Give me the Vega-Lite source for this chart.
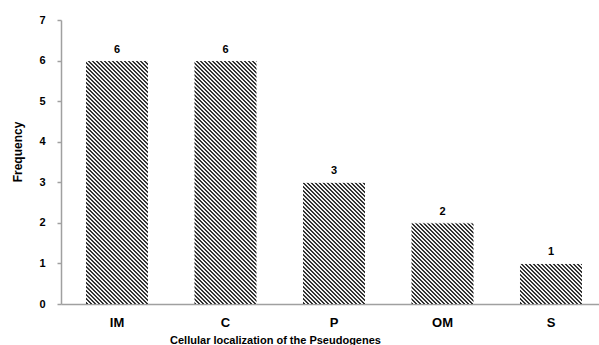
{
"$schema":"https://vega.github.io/schema/vega-lite/v6.json",
"autosize":{"type":"none"},
"padding":{"left":61,"top":20,"right":0,"bottom":41},
"width":538,
"height":284,
"background":"white",
"config":{"view":{"stroke":null},"font":"Liberation Sans"},
"data":{"values":[
{"Location":"IM","Frequency":6},
{"Location":"C","Frequency":6},
{"Location":"P","Frequency":3},
{"Location":"OM","Frequency":2},
{"Location":"S","Frequency":1}
]},
"encoding":{
"x":{"field":"Location","type":"nominal","sort":null,
"scale":{"paddingInner":0.4286,"paddingOuter":0.1935,"align":0.595},
"axis":{"title":"Cellular localization of the Pseudogenes","labelAngle":0,"ticks":false,"tickSize":0,"labelPadding":22,"labelBaseline":"alphabetic","labelFontSize":13,"labelFontWeight":"bold","labelColor":"#000","domainColor":"#a0a0a0","domainWidth":1.5,"titleFontSize":11,"titleFontWeight":"bold","titleColor":"#000","titleX":214,"titleY":39,"titleBaseline":"alphabetic","titleAlign":"center"}}
},
"layer":[
{"mark":{"type":"bar","stroke":null,"fill":{"gradient":"linear","x1":0.004032,"y1":1,"x2":0.297522,"y2":-0.34438,"stops":[
{"offset":0,"color":"#333"},{"offset":0.005,"color":"#333"},{"offset":0.005,"color":"#f2f2f2"},{"offset":0.01,"color":"#f2f2f2"},
{"offset":0.01,"color":"#333"},{"offset":0.015,"color":"#333"},{"offset":0.015,"color":"#f2f2f2"},{"offset":0.02,"color":"#f2f2f2"},
{"offset":0.02,"color":"#333"},{"offset":0.025,"color":"#333"},{"offset":0.025,"color":"#f2f2f2"},{"offset":0.03,"color":"#f2f2f2"},
{"offset":0.03,"color":"#333"},{"offset":0.035,"color":"#333"},{"offset":0.035,"color":"#f2f2f2"},{"offset":0.04,"color":"#f2f2f2"},
{"offset":0.04,"color":"#333"},{"offset":0.045,"color":"#333"},{"offset":0.045,"color":"#f2f2f2"},{"offset":0.05,"color":"#f2f2f2"},
{"offset":0.05,"color":"#333"},{"offset":0.055,"color":"#333"},{"offset":0.055,"color":"#f2f2f2"},{"offset":0.06,"color":"#f2f2f2"},
{"offset":0.06,"color":"#333"},{"offset":0.065,"color":"#333"},{"offset":0.065,"color":"#f2f2f2"},{"offset":0.07,"color":"#f2f2f2"},
{"offset":0.07,"color":"#333"},{"offset":0.075,"color":"#333"},{"offset":0.075,"color":"#f2f2f2"},{"offset":0.08,"color":"#f2f2f2"},
{"offset":0.08,"color":"#333"},{"offset":0.085,"color":"#333"},{"offset":0.085,"color":"#f2f2f2"},{"offset":0.09,"color":"#f2f2f2"},
{"offset":0.09,"color":"#333"},{"offset":0.095,"color":"#333"},{"offset":0.095,"color":"#f2f2f2"},{"offset":0.1,"color":"#f2f2f2"},
{"offset":0.1,"color":"#333"},{"offset":0.105,"color":"#333"},{"offset":0.105,"color":"#f2f2f2"},{"offset":0.11,"color":"#f2f2f2"},
{"offset":0.11,"color":"#333"},{"offset":0.115,"color":"#333"},{"offset":0.115,"color":"#f2f2f2"},{"offset":0.12,"color":"#f2f2f2"},
{"offset":0.12,"color":"#333"},{"offset":0.125,"color":"#333"},{"offset":0.125,"color":"#f2f2f2"},{"offset":0.13,"color":"#f2f2f2"},
{"offset":0.13,"color":"#333"},{"offset":0.135,"color":"#333"},{"offset":0.135,"color":"#f2f2f2"},{"offset":0.14,"color":"#f2f2f2"},
{"offset":0.14,"color":"#333"},{"offset":0.145,"color":"#333"},{"offset":0.145,"color":"#f2f2f2"},{"offset":0.15,"color":"#f2f2f2"},
{"offset":0.15,"color":"#333"},{"offset":0.155,"color":"#333"},{"offset":0.155,"color":"#f2f2f2"},{"offset":0.16,"color":"#f2f2f2"},
{"offset":0.16,"color":"#333"},{"offset":0.165,"color":"#333"},{"offset":0.165,"color":"#f2f2f2"},{"offset":0.17,"color":"#f2f2f2"},
{"offset":0.17,"color":"#333"},{"offset":0.175,"color":"#333"},{"offset":0.175,"color":"#f2f2f2"},{"offset":0.18,"color":"#f2f2f2"},
{"offset":0.18,"color":"#333"},{"offset":0.185,"color":"#333"},{"offset":0.185,"color":"#f2f2f2"},{"offset":0.19,"color":"#f2f2f2"},
{"offset":0.19,"color":"#333"},{"offset":0.195,"color":"#333"},{"offset":0.195,"color":"#f2f2f2"},{"offset":0.2,"color":"#f2f2f2"},
{"offset":0.2,"color":"#333"},{"offset":0.205,"color":"#333"},{"offset":0.205,"color":"#f2f2f2"},{"offset":0.21,"color":"#f2f2f2"},
{"offset":0.21,"color":"#333"},{"offset":0.215,"color":"#333"},{"offset":0.215,"color":"#f2f2f2"},{"offset":0.22,"color":"#f2f2f2"},
{"offset":0.22,"color":"#333"},{"offset":0.225,"color":"#333"},{"offset":0.225,"color":"#f2f2f2"},{"offset":0.23,"color":"#f2f2f2"},
{"offset":0.23,"color":"#333"},{"offset":0.235,"color":"#333"},{"offset":0.235,"color":"#f2f2f2"},{"offset":0.24,"color":"#f2f2f2"},
{"offset":0.24,"color":"#333"},{"offset":0.245,"color":"#333"},{"offset":0.245,"color":"#f2f2f2"},{"offset":0.25,"color":"#f2f2f2"},
{"offset":0.25,"color":"#333"},{"offset":0.255,"color":"#333"},{"offset":0.255,"color":"#f2f2f2"},{"offset":0.26,"color":"#f2f2f2"},
{"offset":0.26,"color":"#333"},{"offset":0.265,"color":"#333"},{"offset":0.265,"color":"#f2f2f2"},{"offset":0.27,"color":"#f2f2f2"},
{"offset":0.27,"color":"#333"},{"offset":0.275,"color":"#333"},{"offset":0.275,"color":"#f2f2f2"},{"offset":0.28,"color":"#f2f2f2"},
{"offset":0.28,"color":"#333"},{"offset":0.285,"color":"#333"},{"offset":0.285,"color":"#f2f2f2"},{"offset":0.29,"color":"#f2f2f2"},
{"offset":0.29,"color":"#333"},{"offset":0.295,"color":"#333"},{"offset":0.295,"color":"#f2f2f2"},{"offset":0.3,"color":"#f2f2f2"},
{"offset":0.3,"color":"#333"},{"offset":0.305,"color":"#333"},{"offset":0.305,"color":"#f2f2f2"},{"offset":0.31,"color":"#f2f2f2"},
{"offset":0.31,"color":"#333"},{"offset":0.315,"color":"#333"},{"offset":0.315,"color":"#f2f2f2"},{"offset":0.32,"color":"#f2f2f2"},
{"offset":0.32,"color":"#333"},{"offset":0.325,"color":"#333"},{"offset":0.325,"color":"#f2f2f2"},{"offset":0.33,"color":"#f2f2f2"},
{"offset":0.33,"color":"#333"},{"offset":0.335,"color":"#333"},{"offset":0.335,"color":"#f2f2f2"},{"offset":0.34,"color":"#f2f2f2"},
{"offset":0.34,"color":"#333"},{"offset":0.345,"color":"#333"},{"offset":0.345,"color":"#f2f2f2"},{"offset":0.35,"color":"#f2f2f2"},
{"offset":0.35,"color":"#333"},{"offset":0.355,"color":"#333"},{"offset":0.355,"color":"#f2f2f2"},{"offset":0.36,"color":"#f2f2f2"},
{"offset":0.36,"color":"#333"},{"offset":0.365,"color":"#333"},{"offset":0.365,"color":"#f2f2f2"},{"offset":0.37,"color":"#f2f2f2"},
{"offset":0.37,"color":"#333"},{"offset":0.375,"color":"#333"},{"offset":0.375,"color":"#f2f2f2"},{"offset":0.38,"color":"#f2f2f2"},
{"offset":0.38,"color":"#333"},{"offset":0.385,"color":"#333"},{"offset":0.385,"color":"#f2f2f2"},{"offset":0.39,"color":"#f2f2f2"},
{"offset":0.39,"color":"#333"},{"offset":0.395,"color":"#333"},{"offset":0.395,"color":"#f2f2f2"},{"offset":0.4,"color":"#f2f2f2"},
{"offset":0.4,"color":"#333"},{"offset":0.405,"color":"#333"},{"offset":0.405,"color":"#f2f2f2"},{"offset":0.41,"color":"#f2f2f2"},
{"offset":0.41,"color":"#333"},{"offset":0.415,"color":"#333"},{"offset":0.415,"color":"#f2f2f2"},{"offset":0.42,"color":"#f2f2f2"},
{"offset":0.42,"color":"#333"},{"offset":0.425,"color":"#333"},{"offset":0.425,"color":"#f2f2f2"},{"offset":0.43,"color":"#f2f2f2"},
{"offset":0.43,"color":"#333"},{"offset":0.435,"color":"#333"},{"offset":0.435,"color":"#f2f2f2"},{"offset":0.44,"color":"#f2f2f2"},
{"offset":0.44,"color":"#333"},{"offset":0.445,"color":"#333"},{"offset":0.445,"color":"#f2f2f2"},{"offset":0.45,"color":"#f2f2f2"},
{"offset":0.45,"color":"#333"},{"offset":0.455,"color":"#333"},{"offset":0.455,"color":"#f2f2f2"},{"offset":0.46,"color":"#f2f2f2"},
{"offset":0.46,"color":"#333"},{"offset":0.465,"color":"#333"},{"offset":0.465,"color":"#f2f2f2"},{"offset":0.47,"color":"#f2f2f2"},
{"offset":0.47,"color":"#333"},{"offset":0.475,"color":"#333"},{"offset":0.475,"color":"#f2f2f2"},{"offset":0.48,"color":"#f2f2f2"},
{"offset":0.48,"color":"#333"},{"offset":0.485,"color":"#333"},{"offset":0.485,"color":"#f2f2f2"},{"offset":0.49,"color":"#f2f2f2"},
{"offset":0.49,"color":"#333"},{"offset":0.495,"color":"#333"},{"offset":0.495,"color":"#f2f2f2"},{"offset":0.5,"color":"#f2f2f2"},
{"offset":0.5,"color":"#333"},{"offset":0.505,"color":"#333"},{"offset":0.505,"color":"#f2f2f2"},{"offset":0.51,"color":"#f2f2f2"},
{"offset":0.51,"color":"#333"},{"offset":0.515,"color":"#333"},{"offset":0.515,"color":"#f2f2f2"},{"offset":0.52,"color":"#f2f2f2"},
{"offset":0.52,"color":"#333"},{"offset":0.525,"color":"#333"},{"offset":0.525,"color":"#f2f2f2"},{"offset":0.53,"color":"#f2f2f2"},
{"offset":0.53,"color":"#333"},{"offset":0.535,"color":"#333"},{"offset":0.535,"color":"#f2f2f2"},{"offset":0.54,"color":"#f2f2f2"},
{"offset":0.54,"color":"#333"},{"offset":0.545,"color":"#333"},{"offset":0.545,"color":"#f2f2f2"},{"offset":0.55,"color":"#f2f2f2"},
{"offset":0.55,"color":"#333"},{"offset":0.555,"color":"#333"},{"offset":0.555,"color":"#f2f2f2"},{"offset":0.56,"color":"#f2f2f2"},
{"offset":0.56,"color":"#333"},{"offset":0.565,"color":"#333"},{"offset":0.565,"color":"#f2f2f2"},{"offset":0.57,"color":"#f2f2f2"},
{"offset":0.57,"color":"#333"},{"offset":0.575,"color":"#333"},{"offset":0.575,"color":"#f2f2f2"},{"offset":0.58,"color":"#f2f2f2"},
{"offset":0.58,"color":"#333"},{"offset":0.585,"color":"#333"},{"offset":0.585,"color":"#f2f2f2"},{"offset":0.59,"color":"#f2f2f2"},
{"offset":0.59,"color":"#333"},{"offset":0.595,"color":"#333"},{"offset":0.595,"color":"#f2f2f2"},{"offset":0.6,"color":"#f2f2f2"},
{"offset":0.6,"color":"#333"},{"offset":0.605,"color":"#333"},{"offset":0.605,"color":"#f2f2f2"},{"offset":0.61,"color":"#f2f2f2"},
{"offset":0.61,"color":"#333"},{"offset":0.615,"color":"#333"},{"offset":0.615,"color":"#f2f2f2"},{"offset":0.62,"color":"#f2f2f2"},
{"offset":0.62,"color":"#333"},{"offset":0.625,"color":"#333"},{"offset":0.625,"color":"#f2f2f2"},{"offset":0.63,"color":"#f2f2f2"},
{"offset":0.63,"color":"#333"},{"offset":0.635,"color":"#333"},{"offset":0.635,"color":"#f2f2f2"},{"offset":0.64,"color":"#f2f2f2"},
{"offset":0.64,"color":"#333"},{"offset":0.645,"color":"#333"},{"offset":0.645,"color":"#f2f2f2"},{"offset":0.65,"color":"#f2f2f2"},
{"offset":0.65,"color":"#333"},{"offset":0.655,"color":"#333"},{"offset":0.655,"color":"#f2f2f2"},{"offset":0.66,"color":"#f2f2f2"},
{"offset":0.66,"color":"#333"},{"offset":0.665,"color":"#333"},{"offset":0.665,"color":"#f2f2f2"},{"offset":0.67,"color":"#f2f2f2"},
{"offset":0.67,"color":"#333"},{"offset":0.675,"color":"#333"},{"offset":0.675,"color":"#f2f2f2"},{"offset":0.68,"color":"#f2f2f2"},
{"offset":0.68,"color":"#333"},{"offset":0.685,"color":"#333"},{"offset":0.685,"color":"#f2f2f2"},{"offset":0.69,"color":"#f2f2f2"},
{"offset":0.69,"color":"#333"},{"offset":0.695,"color":"#333"},{"offset":0.695,"color":"#f2f2f2"},{"offset":0.7,"color":"#f2f2f2"},
{"offset":0.7,"color":"#333"},{"offset":0.705,"color":"#333"},{"offset":0.705,"color":"#f2f2f2"},{"offset":0.71,"color":"#f2f2f2"},
{"offset":0.71,"color":"#333"},{"offset":0.715,"color":"#333"},{"offset":0.715,"color":"#f2f2f2"},{"offset":0.72,"color":"#f2f2f2"},
{"offset":0.72,"color":"#333"},{"offset":0.725,"color":"#333"},{"offset":0.725,"color":"#f2f2f2"},{"offset":0.73,"color":"#f2f2f2"},
{"offset":0.73,"color":"#333"},{"offset":0.735,"color":"#333"},{"offset":0.735,"color":"#f2f2f2"},{"offset":0.74,"color":"#f2f2f2"},
{"offset":0.74,"color":"#333"},{"offset":0.745,"color":"#333"},{"offset":0.745,"color":"#f2f2f2"},{"offset":0.75,"color":"#f2f2f2"},
{"offset":0.75,"color":"#333"},{"offset":0.755,"color":"#333"},{"offset":0.755,"color":"#f2f2f2"},{"offset":0.76,"color":"#f2f2f2"},
{"offset":0.76,"color":"#333"},{"offset":0.765,"color":"#333"},{"offset":0.765,"color":"#f2f2f2"},{"offset":0.77,"color":"#f2f2f2"},
{"offset":0.77,"color":"#333"},{"offset":0.775,"color":"#333"},{"offset":0.775,"color":"#f2f2f2"},{"offset":0.78,"color":"#f2f2f2"}
]}},
"encoding":{
"y":{"datum":7,"type":"quantitative","scale":{"domain":[0,7],"nice":false},
"axis":{"title":"Frequency","values":[0,1,2,3,4,5,6,7],"grid":false,"tickSize":4,"tickColor":"#a0a0a0","tickWidth":1.5,"domainColor":"#a0a0a0","domainWidth":1.5,"labelPadding":12,"labelFontSize":11,"labelFontWeight":"bold","labelColor":"#000","titleFontSize":12,"titleFontWeight":"bold","titleColor":"#000","titleX":-40,"titleY":131.5,"titleAngle":-90,"titleBaseline":"alphabetic","titleAlign":"center"}},
"y2":{"datum":0}
}},
{"mark":{"type":"bar","fill":"white","stroke":"white","strokeWidth":1,"width":{"band":1.06}},
"encoding":{"y":{"field":"Frequency","type":"quantitative"},"y2":{"datum":7}}},
{"mark":{"type":"text","dy":-8,"baseline":"alphabetic","fontSize":11,"fontWeight":"bold","color":"#000"},
"encoding":{"y":{"field":"Frequency","type":"quantitative"},"text":{"field":"Frequency","type":"quantitative"}}}
]
}
